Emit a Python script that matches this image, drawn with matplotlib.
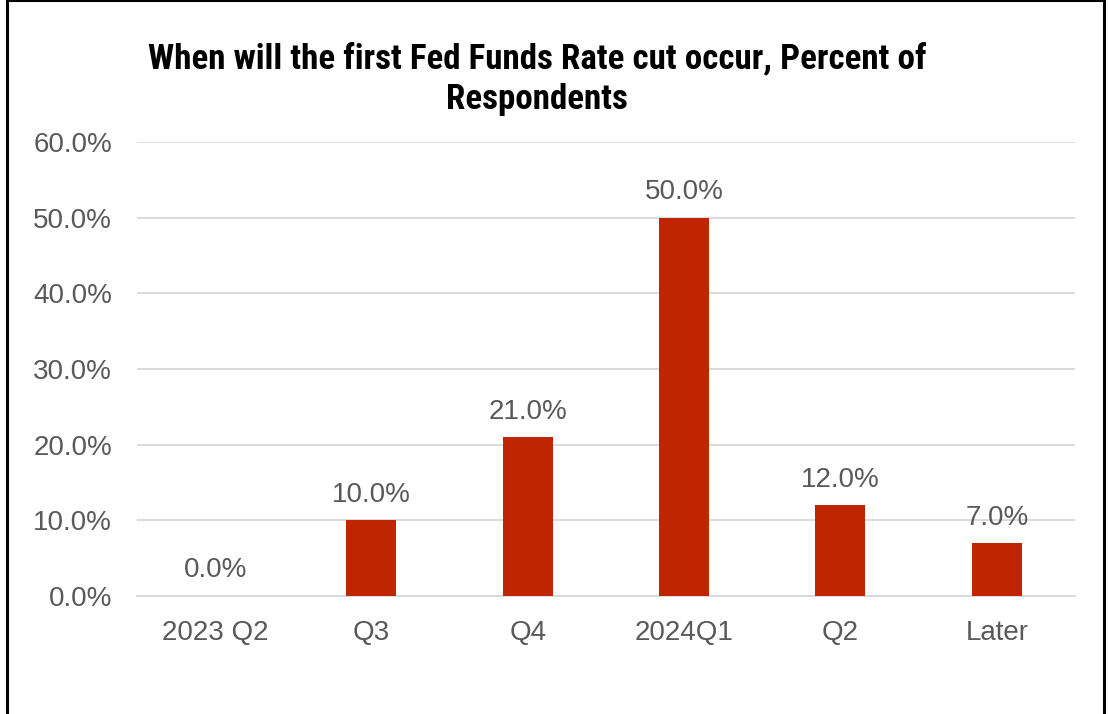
import matplotlib
matplotlib.use("Agg")
import matplotlib.pyplot as plt
from matplotlib.ticker import PercentFormatter, MultipleLocator
from matplotlib.patches import Rectangle

categories = ["2023 Q2", "Q3", "Q4", "2024Q1", "Q2", "Later"]
percent_values = [0.0, 10.0, 21.0, 50.0, 12.0, 7.0]

BAR_COLOR = "#BF2600"
TEXT_GRAY = "#595959"
GRID_GRAY = "#D9D9D9"
FONT = ["Liberation Sans", "DejaVu Sans"]
TITLE_FONT = ["Roboto Condensed", "DejaVu Sans"]

fig = plt.figure(figsize=(11.09, 7.14), dpi=100)
fig.patch.set_facecolor("white")

ax = fig.add_axes([0.1235, 0.1653, 0.8458, 0.6359])
x = list(range(len(categories)))
ax.bar(x, percent_values, width=0.32, color=BAR_COLOR, zorder=3)

ax.set_ylim(0, 60)
ax.set_xlim(-0.5, len(categories) - 0.5)
ax.yaxis.set_major_locator(MultipleLocator(10))
ax.yaxis.set_major_formatter(PercentFormatter(decimals=1))
ax.grid(axis="y", color=GRID_GRAY, linewidth=1.3, zorder=0)
for side in ["top", "right", "left"]:
    ax.spines[side].set_visible(False)
ax.spines["bottom"].set_color(GRID_GRAY)
ax.spines["bottom"].set_linewidth(1.3)
ax.tick_params(axis="both", length=0, colors=TEXT_GRAY, labelsize=20)
ax.tick_params(axis="x", pad=17)
ax.tick_params(axis="y", pad=18)
ax.set_xticks(x)
ax.set_xticklabels(categories)
for lbl in ax.get_xticklabels() + ax.get_yticklabels():
    lbl.set_family(FONT)
    lbl.set_color(TEXT_GRAY)

for xi, v in zip(x, percent_values):
    ax.annotate(f"{v:.1f}%", (xi, v), xytext=(0, 9), textcoords="offset points",
                ha="center", va="bottom", fontsize=20, color=TEXT_GRAY,
                family=FONT)

fig.text(0.484, 0.889, "When will the first Fed Funds Rate cut occur, Percent of\nRespondents",
         ha="center", va="center", fontsize=25.2, fontweight="heavy", family=TITLE_FONT,
         color="black", linespacing=1.3)

# outer frame
fig.add_artist(Rectangle((7 / 1109, -0.01), (1104 - 7) / 1109, 0.0145 + 1 - 3 / 714,
                         transform=fig.transFigure, fill=False,
                         edgecolor="black", linewidth=2.2))

fig.savefig("out.png", dpi=100, facecolor="white")
